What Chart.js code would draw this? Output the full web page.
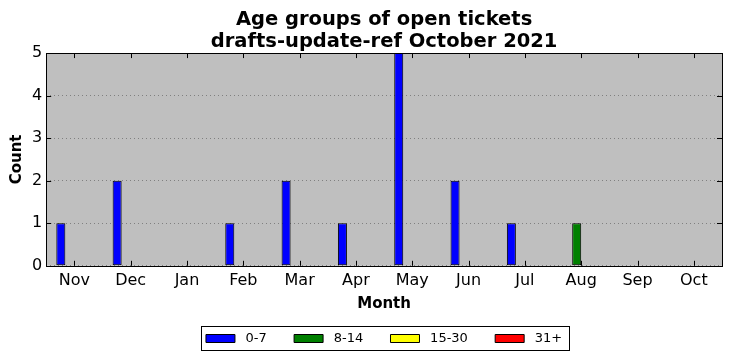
<!DOCTYPE html>
<html>
<head>
<meta charset="utf-8">
<script src="https://cdn.jsdelivr.net/npm/chart.js@4/dist/chart.umd.min.js"></script>
<style>
  html, body { margin: 0; padding: 0; background: #fff; }
  #wrap { width: 732px; height: 361px; }
</style>
</head>
<body>
<div id="wrap"><canvas id="myChart" width="732" height="361"></canvas></div>
<script>
// data
var months = ['Nov', 'Dec', 'Jan', 'Feb', 'Mar', 'Apr', 'May', 'Jun', 'Jul', 'Aug', 'Sep', 'Oct'];
var age0to7   = [1, 2, 0, 1, 2, 1, 5, 2, 1, 0, 0, 0];
var age8to14  = [0, 0, 0, 0, 0, 0, 0, 0, 0, 1, 0, 0];
var age15to30 = [0, 0, 0, 0, 0, 0, 0, 0, 0, 0, 0, 0];
var age31plus = [0, 0, 0, 0, 0, 0, 0, 0, 0, 0, 0, 0];
var yTicks = [0, 1, 2, 3, 4, 5];

var FONT = "'DejaVu Sans', sans-serif";

// gray plot background, black frame and inward tick marks like matplotlib classic
var framePlugin = {
    id: 'frame',
    beforeDraw: function(chart) {
        var a = chart.chartArea, c = chart.ctx;
        c.save();
        c.fillStyle = '#bfbfbf';
        c.fillRect(a.left, a.top, a.right - a.left, a.bottom - a.top);
        c.restore();
    },
    afterDatasetsDraw: function(chart) {
        var a = chart.chartArea, c = chart.ctx;
        var xs = chart.scales.x, ys = chart.scales.y;
        c.save();
        c.strokeStyle = '#000';
        c.lineWidth = 1;
        c.beginPath();
        xs.ticks.forEach(function(t, i) {
            var px = Math.round(xs.getPixelForTick(i)) + 0.5;
            c.moveTo(px, a.bottom); c.lineTo(px, a.bottom - 5);
            c.moveTo(px, a.top); c.lineTo(px, a.top + 5);
        });
        ys.ticks.forEach(function(t, i) {
            var py = Math.round(ys.getPixelForTick(i)) + 0.5;
            c.moveTo(a.left, py); c.lineTo(a.left + 5, py);
            c.moveTo(a.right, py); c.lineTo(a.right - 5, py);
        });
        c.stroke();
        c.strokeRect(Math.round(a.left) + 0.5, Math.round(a.top) + 0.5,
                     Math.round(a.right - a.left), Math.round(a.bottom - a.top));
        c.restore();
    },
    afterDraw: function(chart) {
        // box round the legend
        var boxes = chart.legend.legendHitBoxes;
        if (!boxes || !boxes.length) return;
        var l = Infinity, r = -Infinity, t = Infinity, b = -Infinity;
        boxes.forEach(function(h) {
            l = Math.min(l, h.left); r = Math.max(r, h.left + h.width);
            t = Math.min(t, h.top); b = Math.max(b, h.top + h.height);
        });
        var c = chart.ctx;
        c.save();
        c.strokeStyle = '#000';
        c.lineWidth = 1;
        c.strokeRect(Math.round(l - 5) + 0.5, Math.round(t - 6) + 0.5,
                     Math.round(r - l + 12), Math.round(b - t + 11));
        c.restore();
    }
};

function ds(label, data, color) {
    return {
        label: label,
        data: data,
        backgroundColor: color,
        borderColor: '#000',
        borderWidth: 1,
        borderSkipped: false
    };
}

var ctx = document.getElementById('myChart').getContext('2d');
var chart = new Chart(ctx, {
    type: 'bar',
    data: {
        labels: months,
        datasets: [
            ds('0-7', age0to7, '#0000ff'),
            ds('8-14', age8to14, '#008000'),
            ds('15-30', age15to30, '#ffff00'),
            ds('31+', age31plus, '#ff0000')
        ]
    },
    plugins: [framePlugin],
    options: {
        responsive: false,
        animation: false,
        devicePixelRatio: 1,
        datasets: {
            bar: { categoryPercentage: 0.64, barPercentage: 1.0 }
        },
        layout: { padding: { left: 8, right: 10, top: 4, bottom: 6 } },
        plugins: {
            title: {
                display: true,
                fullSize: false,
                text: ['Age groups of open tickets', 'drafts-update-ref October 2021'],
                color: '#000',
                font: { family: FONT, size: 19.5, weight: 'bold', lineHeight: 1.13 },
                padding: { top: 5, bottom: 0 }
            },
            legend: {
                position: 'bottom',
                fullSize: false,
                labels: {
                    color: '#000',
                    font: { family: FONT, size: 13 },
                    boxWidth: 29,
                    boxHeight: 8,
                    padding: 19,
                    generateLabels: function(chart) {
                        var items = Chart.defaults.plugins.legend.labels.generateLabels(chart);
                        items.forEach(function(it, i) {
                            it.text = ' ' + it.text + (i < items.length - 1 ? '  ' : '');
                            it.lineWidth = 1;
                        });
                        return items;
                    }
                }
            },
            tooltip: { enabled: false }
        },
        scales: {
            x: {
                grid: { display: false, drawTicks: false },
                border: { display: false },
                ticks: { color: '#000', font: { family: FONT, size: 16 }, padding: 5, maxRotation: 0 },
                title: { display: true, text: 'Month', color: '#000', font: { family: FONT, size: 15, weight: 'bold' }, padding: { top: 0, bottom: 0 } }
            },
            y: {
                min: 0,
                max: 5,
                afterBuildTicks: function(axis) {
                    axis.ticks = yTicks.map(function(v) { return { value: v }; });
                },
                grid: {
                    color: '#808080',
                    lineWidth: 1,
                    drawTicks: false
                },
                border: { display: false, dash: [1, 3] },
                ticks: { color: '#000', font: { family: FONT, size: 16 }, padding: 4 },
                title: { display: true, text: 'Count', color: '#000', font: { family: FONT, size: 15, weight: 'bold' }, padding: { top: 0, bottom: 2 } }
            }
        }
    }
});
</script>
</body>
</html>
